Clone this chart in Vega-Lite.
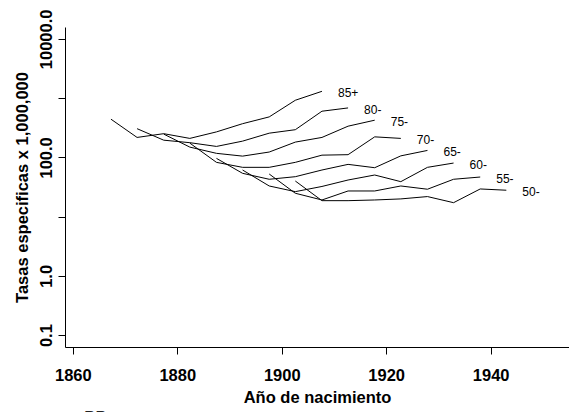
{
  "$schema": "https://vega.github.io/schema/vega-lite/v6.json",
  "width": 504,
  "height": 320,
  "autosize": {"type": "none"},
  "padding": {"left": 65, "top": 27, "right": 0, "bottom": 65},
  "background": "white",
  "config": {"view": {"stroke": null}, "font": "Liberation Sans"},
  "title": {"text": "PP", "orient": "bottom", "anchor": "start", "dx": 70, "offset": 4, "fontSize": 17, "fontWeight": "normal", "font": "Liberation Sans", "color": "#222", "baseline": "top"},
  "data": {"values": [
    {"age": "85+", "cohort": 1867.3, "rate": 441},
    {"age": "85+", "cohort": 1872.3, "rate": 217},
    {"age": "85+", "cohort": 1877.4, "rate": 251},
    {"age": "85+", "cohort": 1882.4, "rate": 209},
    {"age": "85+", "cohort": 1887.5, "rate": 269},
    {"age": "85+", "cohort": 1892.5, "rate": 370},
    {"age": "85+", "cohort": 1897.6, "rate": 482},
    {"age": "85+", "cohort": 1902.6, "rate": 920},
    {"age": "85+", "cohort": 1907.7, "rate": 1303},
    {"age": "80-", "cohort": 1872.3, "rate": 305},
    {"age": "80-", "cohort": 1877.4, "rate": 195},
    {"age": "80-", "cohort": 1882.4, "rate": 177},
    {"age": "80-", "cohort": 1887.5, "rate": 153},
    {"age": "80-", "cohort": 1892.5, "rate": 188},
    {"age": "80-", "cohort": 1897.6, "rate": 256},
    {"age": "80-", "cohort": 1902.6, "rate": 293},
    {"age": "80-", "cohort": 1907.7, "rate": 601},
    {"age": "80-", "cohort": 1912.7, "rate": 683},
    {"age": "75-", "cohort": 1877.4, "rate": 247},
    {"age": "75-", "cohort": 1882.4, "rate": 149},
    {"age": "75-", "cohort": 1887.5, "rate": 117},
    {"age": "75-", "cohort": 1892.5, "rate": 105},
    {"age": "75-", "cohort": 1897.6, "rate": 123},
    {"age": "75-", "cohort": 1902.6, "rate": 181},
    {"age": "75-", "cohort": 1907.7, "rate": 217},
    {"age": "75-", "cohort": 1912.7, "rate": 336},
    {"age": "75-", "cohort": 1917.8, "rate": 424},
    {"age": "70-", "cohort": 1882.4, "rate": 174},
    {"age": "70-", "cohort": 1887.5, "rate": 82.4},
    {"age": "70-", "cohort": 1892.5, "rate": 67.9},
    {"age": "70-", "cohort": 1897.6, "rate": 67.9},
    {"age": "70-", "cohort": 1902.6, "rate": 82.4},
    {"age": "70-", "cohort": 1907.7, "rate": 109},
    {"age": "70-", "cohort": 1912.7, "rate": 111},
    {"age": "70-", "cohort": 1917.8, "rate": 222},
    {"age": "70-", "cohort": 1922.8, "rate": 209},
    {"age": "65-", "cohort": 1887.5, "rate": 96.2},
    {"age": "65-", "cohort": 1892.5, "rate": 53.8},
    {"age": "65-", "cohort": 1897.6, "rate": 42.7},
    {"age": "65-", "cohort": 1902.6, "rate": 47.2},
    {"age": "65-", "cohort": 1907.7, "rate": 61.2},
    {"age": "65-", "cohort": 1912.7, "rate": 76.2},
    {"age": "65-", "cohort": 1917.8, "rate": 66.9},
    {"age": "65-", "cohort": 1922.8, "rate": 106},
    {"age": "65-", "cohort": 1927.9, "rate": 131},
    {"age": "60-", "cohort": 1892.5, "rate": 61.2},
    {"age": "60-", "cohort": 1897.6, "rate": 32.9},
    {"age": "60-", "cohort": 1902.6, "rate": 26.4},
    {"age": "60-", "cohort": 1907.7, "rate": 32.3},
    {"age": "60-", "cohort": 1912.7, "rate": 41.5},
    {"age": "60-", "cohort": 1917.8, "rate": 50.4},
    {"age": "60-", "cohort": 1922.8, "rate": 38.9},
    {"age": "60-", "cohort": 1927.9, "rate": 67.9},
    {"age": "60-", "cohort": 1932.9, "rate": 80.2},
    {"age": "55-", "cohort": 1897.6, "rate": 52.4},
    {"age": "55-", "cohort": 1902.6, "rate": 24.8},
    {"age": "55-", "cohort": 1907.7, "rate": 19.1},
    {"age": "55-", "cohort": 1912.7, "rate": 27.1},
    {"age": "55-", "cohort": 1917.8, "rate": 27.1},
    {"age": "55-", "cohort": 1922.8, "rate": 32.9},
    {"age": "55-", "cohort": 1927.9, "rate": 29.0},
    {"age": "55-", "cohort": 1932.9, "rate": 42.7},
    {"age": "55-", "cohort": 1938.0, "rate": 46.6},
    {"age": "50-", "cohort": 1902.6, "rate": 39.9},
    {"age": "50-", "cohort": 1907.7, "rate": 18.6},
    {"age": "50-", "cohort": 1912.7, "rate": 18.6},
    {"age": "50-", "cohort": 1917.8, "rate": 19.1},
    {"age": "50-", "cohort": 1922.8, "rate": 19.9},
    {"age": "50-", "cohort": 1927.9, "rate": 21.8},
    {"age": "50-", "cohort": 1932.9, "rate": 17.2},
    {"age": "50-", "cohort": 1938.0, "rate": 29.3},
    {"age": "50-", "cohort": 1943.0, "rate": 27.9}
  ]},
  "encoding": {
    "x": {"field": "cohort", "type": "quantitative",
      "scale": {"domain": [1858.5, 1955], "nice": false, "zero": false},
      "axis": {"values": [1860, 1880, 1900, 1920, 1940], "format": "d", "grid": false,
        "domainColor": "black", "tickColor": "black", "tickSize": 7, "labelPadding": 13,
        "labelFont": "Liberation Sans", "labelFontSize": 16.5, "labelFontWeight": "bold", "labelColor": "black",
        "labelFlush": false, "labelOverlap": false,
        "title": "Año de nacimiento", "titleFont": "Liberation Sans", "titleFontSize": 16.5, "titleFontWeight": "bold", "titleColor": "black", "titlePadding": 6}},
    "y": {"field": "rate", "type": "quantitative",
      "scale": {"type": "log", "domain": [0.0631, 15849], "nice": false, "zero": false},
      "axis": {"values": [0.1, 1, 10, 100, 1000, 10000], "grid": false,
        "labelExpr": "(datum.value == 10 || datum.value == 1000) ? '' : format(datum.value, '.1f')",
        "domainColor": "black", "tickColor": "black", "tickSize": 7, "labelPadding": 4,
        "labelAngle": 270, "labelAlign": "center", "labelBaseline": "bottom",
        "labelFont": "Liberation Sans", "labelFontSize": 16.5, "labelFontWeight": "bold", "labelColor": "black",
        "labelFlush": false, "labelOverlap": false,
        "title": "Tasas especificas x 1,000,000", "titleFont": "Liberation Sans", "titleFontSize": 16.5, "titleFontWeight": "bold", "titleColor": "black", "titlePadding": 8}}
  },
  "layer": [
    {"mark": {"type": "line", "color": "black", "strokeWidth": 1},
     "encoding": {"detail": {"field": "age"}}},
    {"transform": [
       {"joinaggregate": [{"op": "max", "field": "cohort", "as": "maxc"}], "groupby": ["age"]},
       {"filter": "datum.cohort == datum.maxc"}],
     "mark": {"type": "text", "align": "left", "baseline": "middle", "dx": 16, "dy": 2, "fontSize": 12, "font": "Liberation Sans", "color": "black"},
     "encoding": {"text": {"field": "age"}}}
  ]
}
